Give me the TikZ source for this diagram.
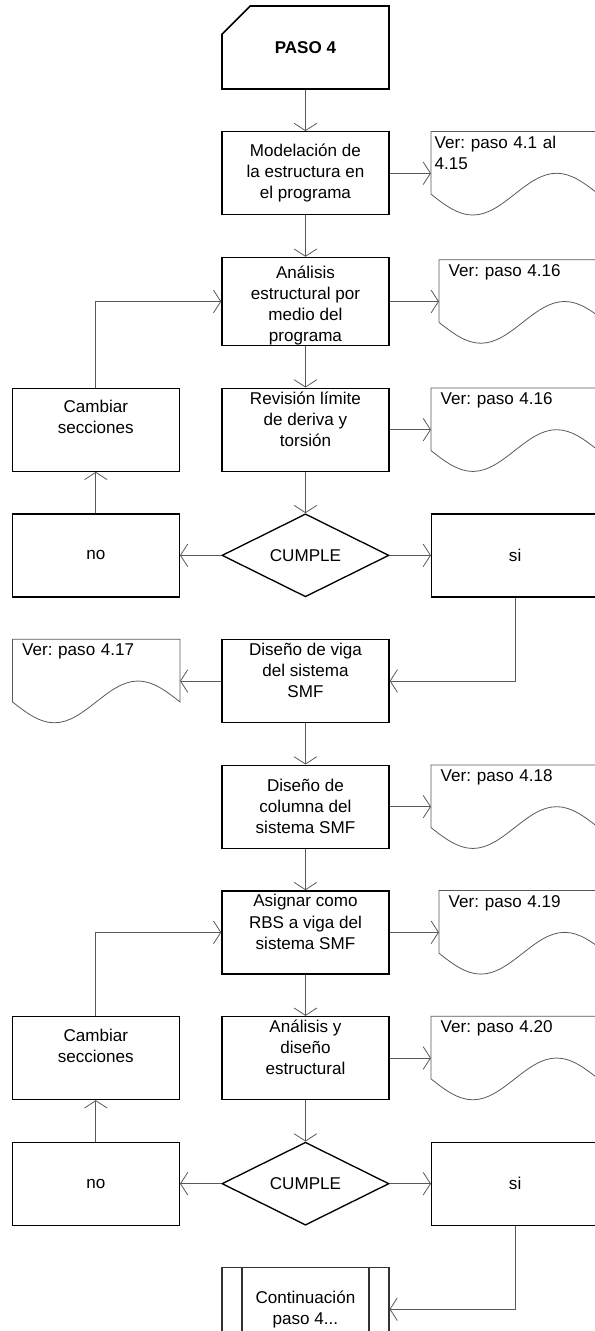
\documentclass[tikz,border=0pt]{standalone}
\usepackage{fontspec}
\setmainfont{Liberation Sans}
\frenchspacing
\usetikzlibrary{arrows.meta,positioning,shapes.geometric,shapes.misc,calc}
\tikzset{
  docline/.style={draw=black!65, line width=0.6pt},
  docu/.style={minimum width=125.25pt, minimum height=62.25pt, inner xsep=7pt, inner ysep=3pt, text width=111pt, align=left, text height=9.3pt, text depth=46.95pt}
}
\newcommand{\docshape}[1]{%
  \draw[docline] let \p1=(#1.north west), \p2=(#1.south east), \n1={\x2-\x1}, \n2={\y1-\y2} in
    (\x2,\y1) -- (\x1,\y1) -- (\x1,\y1-0.75*\n2) sin (\x1+0.25*\n1,\y2) cos (\x1+0.5*\n1,\y1-0.75*\n2)
    sin (\x1+0.75*\n1,\y1-0.5*\n2) cos (\x2,\y1-0.75*\n2) -- cycle;}

\begin{document}
\begin{tikzpicture}[node distance=31pt and 31pt, >={Straight Barb[length=5.5pt,width=17pt]},
  font=\fontsize{12.8}{15.8}\selectfont,
  box/.style={draw, line width=1pt, minimum width=125.25pt, minimum height=62.25pt, inner sep=0pt, align=center},
  decis/.style={diamond, draw, line width=1pt, aspect=2, minimum width=125.25pt, minimum height=62.25pt, inner sep=0pt},
  conn/.style={->, draw=black!65, line width=0.6pt}]
\useasboundingbox (0,0) rectangle (446.25pt,-998.25pt);
\clip (0,0) rectangle (446.25pt,-998.25pt);
\node[box, chamfered rectangle, chamfered rectangle corners=north west, chamfered rectangle xsep=8.75pt, chamfered rectangle ysep=16.75pt, line width=1.2pt] (paso) at (229.1pt,-35.6pt) {\textbf{PASO 4}};
\node[box, below=of paso] (model) {Modelación de\\la estructura en\\el programa};
\node[box, below=of model] (anal) {\rule{0pt}{16pt}Análisis\\estructural por\\medio del\\programa};
\node[box, below=of anal] (revis) {Revisión límite\\de deriva y\\torsión\\~};
\node[decis, below=of revis] (cumple1) {CUMPLE};
\node[box, below=of cumple1] (viga) {Diseño de viga\\del sistema\\SMF\\~};
\node[box, below=of viga] (colum) {Diseño de\\columna del\\sistema SMF};
\node[box, below=of colum] (rbs) {Asignar como\\RBS a viga del\\sistema SMF\\~};
\node[box, below=of rbs] (disen) {Análisis y\\diseño\\estructural\\~};
\node[decis, below=of disen] (cumple2) {CUMPLE};
\node[box, line width=0.8pt, draw=black!80, below=of cumple2] (cont) {Continuación\\paso 4...};
\node[box, left=of cumple1] (no1) {no};
\node[box, above=of no1] (cambio1) {Cambiar\\secciones\\[3pt]~};
\node[box, right=of cumple1] (si1) {si};
\node[box, left=of cumple2] (no2) {no};
\node[box, above=of no2] (cambio2) {Cambiar\\secciones\\[3pt]~};
\node[box, right=of cumple2] (si2) {si};
\node[docu, inner xsep=2.5pt, text width=120pt, right=of model] (doc1) {Ver: paso 4.1 al\\4.15};
\node[docu, right=of anal, xshift=6pt] (doc2) {Ver: paso 4.16};
\node[docu, right=of revis] (doc3) {Ver: paso 4.16};
\node[docu, left=of viga] (doc4) {Ver: paso 4.17};
\node[docu, right=of colum] (doc5) {Ver: paso 4.18};
\node[docu, right=of rbs, xshift=6pt] (doc6) {Ver: paso 4.19};
\node[docu, right=of disen] (doc7) {Ver: paso 4.20};
\foreach \d in {doc1,doc2,doc3,doc4,doc5,doc6,doc7} {\docshape{\d}}
\draw[line width=0.8pt, draw=black!80] ([xshift=15.4pt]cont.north west) -- ([xshift=15.4pt]cont.south west);
\draw[line width=0.8pt, draw=black!80] ([xshift=-15.4pt]cont.north east) -- ([xshift=-15.4pt]cont.south east);
\draw[conn] (paso) -- (model);
\draw[conn] (model) -- (anal);
\draw[conn] (anal) -- (revis);
\draw[conn] (revis) -- (cumple1);
\draw[conn] (viga) -- (colum);
\draw[conn] (colum) -- (rbs);
\draw[conn] (rbs) -- (disen);
\draw[conn] (disen) -- (cumple2);
\draw[conn] (model) -- (doc1);
\draw[conn] (anal.east) -- (doc2.west);
\draw[conn] (revis) -- (doc3);
\draw[conn] (viga) -- (doc4);
\draw[conn] (colum) -- (doc5);
\draw[conn] (rbs.east) -- (doc6.west);
\draw[conn] (disen) -- (doc7);
\draw[conn] (cumple1) -- (no1);
\draw[conn] (cumple1) -- (si1);
\draw[conn] (no1) -- (cambio1);
\draw[conn] (cambio1.north) |- (anal.west);
\draw[conn] (si1.south) |- (viga.east);
\draw[conn] (cumple2) -- (no2);
\draw[conn] (cumple2) -- (si2);
\draw[conn] (no2) -- (cambio2);
\draw[conn] (cambio2.north) |- (rbs.west);
\draw[conn] (si2.south) |- (cont.east);
\end{tikzpicture}
\end{document}
